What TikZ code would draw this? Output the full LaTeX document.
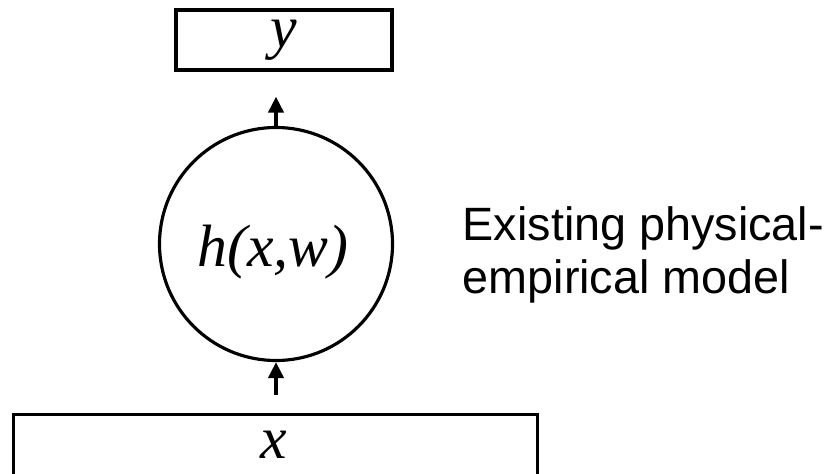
\documentclass[tikz,border=0pt]{standalone}
\usepackage{fontspec}
\setmainfont{Liberation Serif}
\newfontfamily\sansfont{Liberation Sans}
\usepackage{tikz}
\usetikzlibrary{calc,arrows.meta}

\begin{document}
\begin{tikzpicture}[>={Triangle[width=0.15cm,length=0.16cm]},
  box/.style={draw,line width=0.9pt,rectangle,inner sep=0pt},
  lab/.style={font=\fontsize{17}{21}\selectfont\itshape,inner sep=0pt},
  flow/.style={->,line width=1.1pt}]
  \useasboundingbox (0,0) rectangle (8.35,-4.74);
  % output box and model
  \node[box,lab,minimum width=2.16cm,minimum height=0.60cm] (outbox) at (2.84,-0.40) {y};
  \node[box,circle,minimum size=2.33cm] (model) at (2.76,-2.44) {};
  \node[lab,anchor=base] (hlab) at (2.73,-2.665) {h(x,w)};
  % input box, runs off the bottom edge
  \node[box,minimum width=5.24cm,minimum height=1.0cm,anchor=north] (inbox) at (2.755,-4.13) {};
  \node[lab,anchor=base] (xlab) at (2.74,-4.58) {x};
  % arrows
  \draw[flow,shorten >=0.25cm] (model.north) -- (model.north |- outbox.south);
  \draw[flow,shorten <=0.18cm] (model.south |- inbox.north) -- (model.south);
  % side text
  \node[anchor=north west,inner sep=0pt,align=left,
        font=\fontsize{13.3}{15.1}\selectfont\sansfont] (note) at (4.62,-2.06)
        {Existing physical-\\empirical model};
\end{tikzpicture}
\end{document}
